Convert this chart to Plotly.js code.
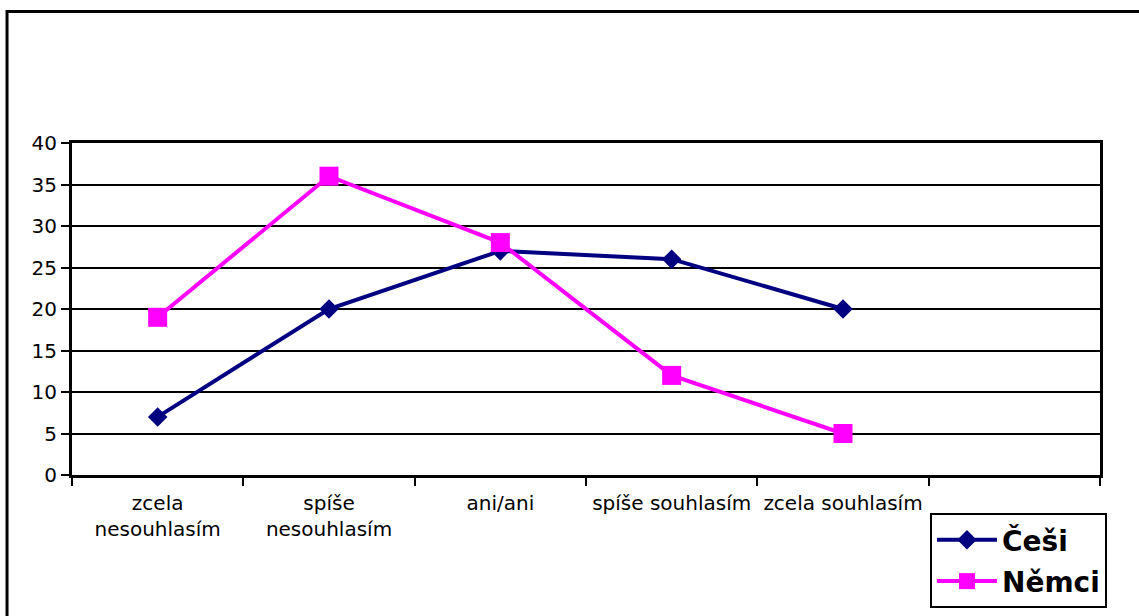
<!DOCTYPE html>
<html>
<head>
<meta charset="utf-8">
<script src="https://cdn.plot.ly/plotly-3.0.1.min.js"></script>
<style>html,body{margin:0;padding:0;background:#fff;}#chart{width:1139px;height:616px;}</style>
</head>
<body>
<div id="chart"></div>
<script>
const categories = ["zcela<br>nesouhlasím", "spíše<br>nesouhlasím", "ani/ani", "spíše souhlasím", "zcela souhlasím", " "];
const seriesNames = ["Češi", "Němci"];
const cesi = [7, 20, 27, 26, 20];
const nemci = [19, 36, 28, 12, 5];
const yTicks = [0, 5, 10, 15, 20, 25, 30, 35, 40];

const traces = [
  {
    x: categories.slice(0, cesi.length), y: cesi, name: seriesNames[0],
    type: 'scatter', mode: 'lines+markers', legendgroup: 'a',
    line: {color: '#000080', width: 4},
    marker: {symbol: 'diamond', size: 15, color: '#000080'}
  },
  {
    x: categories.slice(0, nemci.length), y: nemci, name: seriesNames[1],
    type: 'scatter', mode: 'lines+markers', legendgroup: 'b',
    line: {color: '#FF00FF', width: 4},
    marker: {symbol: 'square', size: 19, color: '#FF00FF'}
  }
];

const layout = {
  width: 1139, height: 616,
  margin: {l: 72, r: 39, t: 143, b: 141, pad: 0, autoexpand: false},
  paper_bgcolor: '#ffffff', plot_bgcolor: '#ffffff',
  font: {family: 'DejaVu Sans, Arial, sans-serif', size: 20, color: '#000'},
  showlegend: true,
  legend: {
    x: 0.8346, y: -0.1145, xanchor: 'left', yanchor: 'top',
    bordercolor: '#000', borderwidth: 2, bgcolor: '#fff',
    font: {family: 'DejaVu Sans, Arial, sans-serif', size: 28, weight: 'bold', color: '#000'},
    tracegroupgap: 2, itemwidth: 60
  },
  xaxis: {
    type: 'category', categoryorder: 'array', categoryarray: categories,
    range: [-0.5, categories.length - 0.5],
    tickson: 'boundaries', ticks: 'outside', ticklen: 8, tickwidth: 2, tickcolor: '#000',
    showline: true, linecolor: '#000', linewidth: 3, mirror: true,
    showgrid: false, zeroline: false, fixedrange: true,
    ticklabelstandoff: 8,
    tickfont: {size: 20, color: '#000'}
  },
  yaxis: {
    range: [0, 40], tickvals: yTicks, ticktext: yTicks.map(String),
    ticks: 'outside', ticklen: 8, tickwidth: 2, tickcolor: '#000',
    showline: true, linecolor: '#000', linewidth: 3, mirror: true,
    showgrid: true, gridcolor: '#000', gridwidth: 2, zeroline: false, fixedrange: true,
    tickfont: {size: 20, color: '#000'}
  },
  shapes: [
    {type: 'rect', xref: 'paper', yref: 'paper',
     x0: -0.0632, x1: 1.2, y0: -0.6, y1: 1.396,
     line: {color: '#000', width: 3}, fillcolor: 'rgba(0,0,0,0)', layer: 'below'}
  ]
};

Plotly.newPlot('chart', traces, layout, {displayModeBar: false, staticPlot: true});
</script>
</body>
</html>
